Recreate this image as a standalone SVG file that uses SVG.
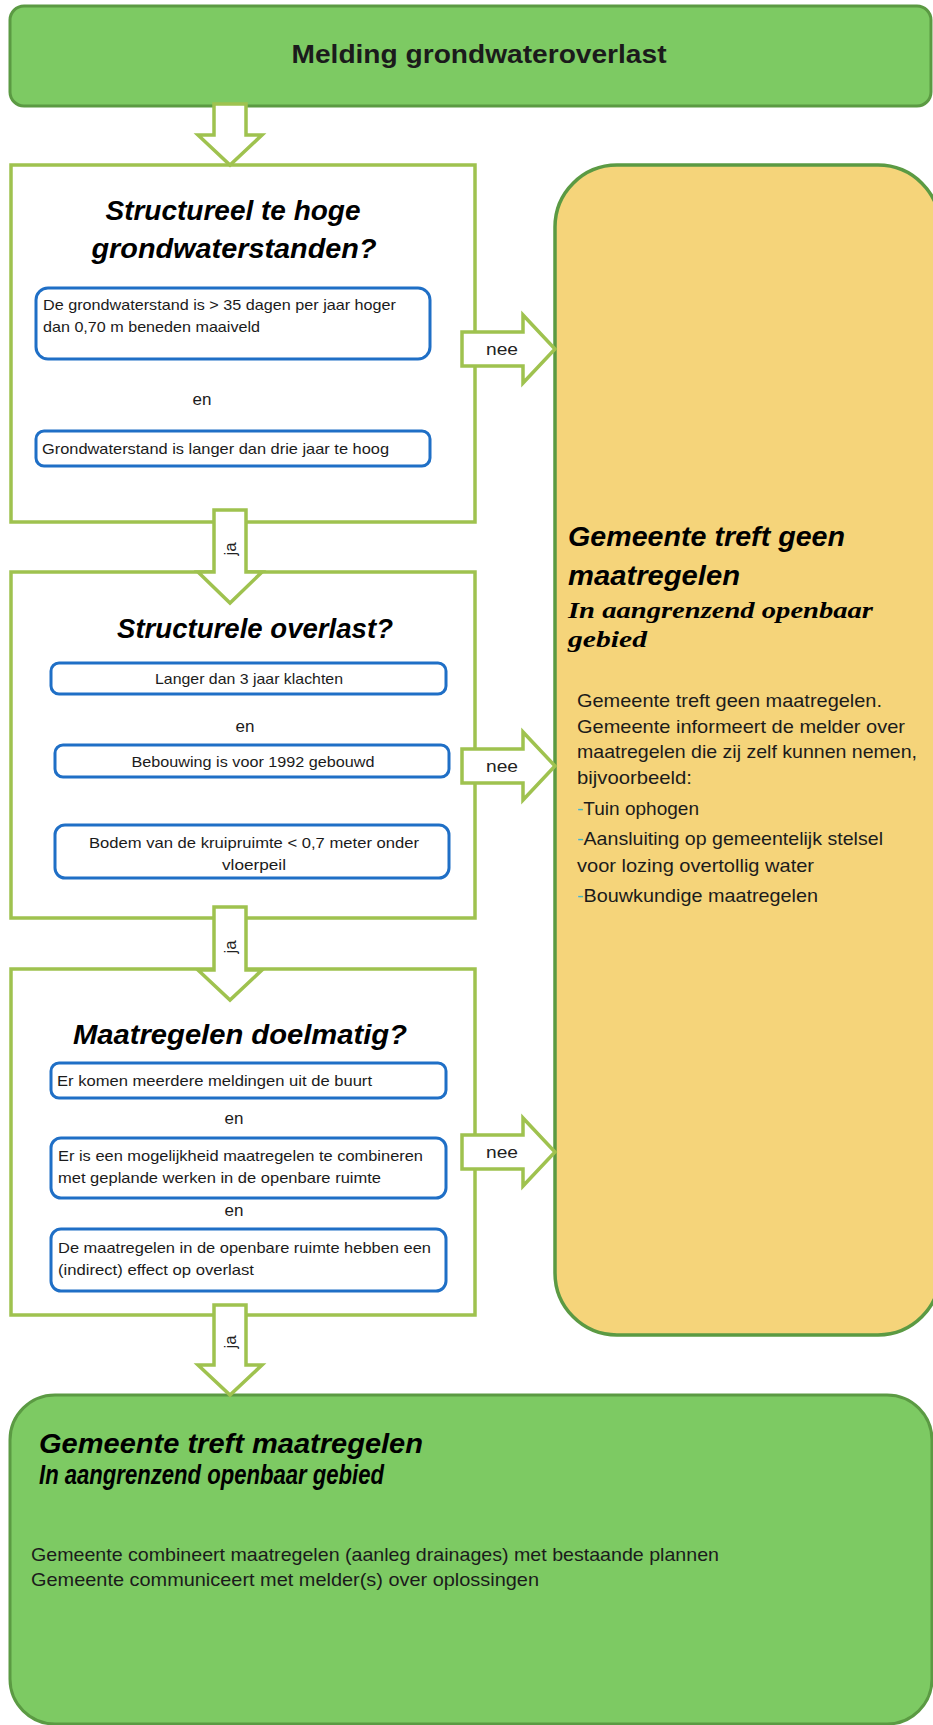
<svg xmlns="http://www.w3.org/2000/svg" width="933" height="1725" viewBox="0 0 933 1725">
<style>
.green{fill:#7dca63;stroke:#5b9a43;stroke-width:3}
.orange{fill:#f5d47a;stroke:#5b9a43;stroke-width:3.5}
.qbox{fill:#ffffff;stroke:#9fc24f;stroke-width:3.5}
.ibox{fill:#ffffff;stroke:#1f6fc6;stroke-width:3}
.arrow{fill:#ffffff;stroke:#9fc24f;stroke-width:3.5;stroke-linejoin:miter}
.t{font-family:"Liberation Sans",Arial,sans-serif;fill:#1b1b1b}
.title{font-family:"Liberation Sans",Arial,sans-serif;font-weight:bold;font-style:italic;font-size:27px;fill:#000}
.small{font-size:14.5px}
.en{font-size:17px}
.lbl{font-family:"Liberation Sans",Arial,sans-serif;font-size:17px;fill:#222}
.body{font-size:18.5px}
.serif{font-family:"Liberation Serif","Times New Roman",serif;font-weight:bold;font-style:italic;font-size:23px;fill:#000}
.dash{fill:#3fb7c9}
</style>

<g id="melding">
<rect class="green" x="10" y="6" width="921" height="100" rx="14"/>
<text class="t" x="479" y="63" font-size="25" font-weight="bold" text-anchor="middle" textLength="375" lengthAdjust="spacingAndGlyphs" fill="#000">Melding grondwateroverlast</text>
</g>

<g id="vraag1">
<rect class="qbox" x="11" y="165" width="464" height="357"/>
<text class="title" x="233" y="220" text-anchor="middle" textLength="255" lengthAdjust="spacingAndGlyphs">Structureel te hoge</text>
<text class="title" x="234" y="258" text-anchor="middle" textLength="285" lengthAdjust="spacingAndGlyphs">grondwaterstanden?</text>
<rect class="ibox" x="36" y="288" width="394" height="71" rx="12"/>
<text class="t small" x="43" y="310" textLength="353" lengthAdjust="spacingAndGlyphs">De grondwaterstand is &gt; 35 dagen per jaar hoger</text>
<text class="t small" x="43" y="332" textLength="217" lengthAdjust="spacingAndGlyphs">dan 0,70 m beneden maaiveld</text>
<text class="t en" x="202" y="405" text-anchor="middle">en</text>
<rect class="ibox" x="36" y="431" width="394" height="35" rx="8"/>
<text class="t small" x="42" y="454" textLength="347" lengthAdjust="spacingAndGlyphs">Grondwaterstand is langer dan drie jaar te hoog</text>
</g>

<g id="vraag2">
<rect class="qbox" x="11" y="572" width="464" height="346"/>
<text class="title" x="255" y="638" text-anchor="middle" textLength="276" lengthAdjust="spacingAndGlyphs">Structurele overlast?</text>
<rect class="ibox" x="51" y="663" width="395" height="31" rx="8"/>
<text class="t small" x="249" y="684" text-anchor="middle" textLength="188" lengthAdjust="spacingAndGlyphs">Langer dan 3 jaar klachten</text>
<text class="t en" x="245" y="732" text-anchor="middle">en</text>
<rect class="ibox" x="55" y="745" width="394" height="32" rx="8"/>
<text class="t small" x="253" y="767" text-anchor="middle" textLength="243" lengthAdjust="spacingAndGlyphs">Bebouwing is voor 1992 gebouwd</text>
<rect class="ibox" x="55" y="825" width="394" height="53" rx="10"/>
<text class="t small" x="254" y="848" text-anchor="middle" textLength="330" lengthAdjust="spacingAndGlyphs">Bodem van de kruipruimte &lt; 0,7 meter onder</text>
<text class="t small" x="254" y="870" text-anchor="middle" textLength="64" lengthAdjust="spacingAndGlyphs">vloerpeil</text>
</g>

<g id="vraag3">
<rect class="qbox" x="11" y="969" width="464" height="346"/>
<text class="title" x="240" y="1044" text-anchor="middle" textLength="334" lengthAdjust="spacingAndGlyphs">Maatregelen doelmatig?</text>
<rect class="ibox" x="51" y="1063" width="395" height="35" rx="8"/>
<text class="t small" x="57" y="1086" textLength="315" lengthAdjust="spacingAndGlyphs">Er komen meerdere meldingen uit de buurt</text>
<text class="t en" x="234" y="1124" text-anchor="middle">en</text>
<rect class="ibox" x="51" y="1138" width="395" height="60" rx="10"/>
<text class="t small" x="58" y="1161" textLength="365" lengthAdjust="spacingAndGlyphs">Er is een mogelijkheid maatregelen te combineren</text>
<text class="t small" x="58" y="1183" textLength="323" lengthAdjust="spacingAndGlyphs">met geplande werken in de openbare ruimte</text>
<text class="t en" x="234" y="1216" text-anchor="middle">en</text>
<rect class="ibox" x="51" y="1229" width="395" height="62" rx="10"/>
<text class="t small" x="58" y="1253" textLength="373" lengthAdjust="spacingAndGlyphs">De maatregelen in de openbare ruimte hebben een</text>
<text class="t small" x="58" y="1275" textLength="196" lengthAdjust="spacingAndGlyphs">(indirect) effect op overlast</text>
</g>

<g id="geen-maatregelen">
<rect class="orange" x="555" y="165" width="385" height="1170" rx="62"/>
<text class="title" x="568" y="546" font-size="27" textLength="277" lengthAdjust="spacingAndGlyphs">Gemeente treft geen</text>
<text class="title" x="568" y="585" font-size="27" textLength="172" lengthAdjust="spacingAndGlyphs">maatregelen</text>
<text class="serif" x="568" y="618" textLength="305" lengthAdjust="spacingAndGlyphs">In aangrenzend openbaar</text>
<text class="serif" x="568" y="647" textLength="79" lengthAdjust="spacingAndGlyphs">gebied</text>
<text class="t body" x="577" y="707" textLength="305" lengthAdjust="spacingAndGlyphs">Gemeente treft geen maatregelen.</text>
<text class="t body" x="577" y="733" textLength="328" lengthAdjust="spacingAndGlyphs">Gemeente informeert de melder over</text>
<text class="t body" x="577" y="758" textLength="340" lengthAdjust="spacingAndGlyphs">maatregelen die zij zelf kunnen nemen,</text>
<text class="t body" x="577" y="784" textLength="115" lengthAdjust="spacingAndGlyphs">bijvoorbeeld:</text>
<text class="t body" x="577" y="815" textLength="122" lengthAdjust="spacingAndGlyphs"><tspan class="dash">-</tspan>Tuin ophogen</text>
<text class="t body" x="577" y="845" textLength="306" lengthAdjust="spacingAndGlyphs"><tspan class="dash">-</tspan>Aansluiting op gemeentelijk stelsel</text>
<text class="t body" x="577" y="872" textLength="237" lengthAdjust="spacingAndGlyphs">voor lozing overtollig water</text>
<text class="t body" x="577" y="902" textLength="241" lengthAdjust="spacingAndGlyphs"><tspan class="dash">-</tspan>Bouwkundige maatregelen</text>
</g>

<g id="treft-maatregelen">
<rect class="green" x="10" y="1395" width="922" height="329" rx="45"/>
<text class="title" x="39" y="1453" font-size="28" textLength="384" lengthAdjust="spacingAndGlyphs">Gemeente treft maatregelen</text>
<text class="title" x="39" y="1484" font-size="22" textLength="345" lengthAdjust="spacingAndGlyphs">In aangrenzend openbaar gebied</text>
<text class="t body" x="31" y="1561" font-size="19" textLength="688" lengthAdjust="spacingAndGlyphs">Gemeente combineert maatregelen (aanleg drainages) met bestaande plannen</text>
<text class="t body" x="31" y="1586" font-size="19" textLength="508" lengthAdjust="spacingAndGlyphs">Gemeente communiceert met  melder(s) over oplossingen</text>
</g>

<g id="connectors">
<path class="arrow" d="M214,104 L246,104 L246,135 L262,135 L230,165 L198,135 L214,135 Z"/>
<path class="arrow" d="M214,510 L246,510 L246,572 L262,572 L230,603 L198,572 L214,572 Z"/>
<text class="lbl" transform="translate(230,549) rotate(-90)" text-anchor="middle" dominant-baseline="central" font-size="15">ja</text>
<path class="arrow" d="M214,907 L246,907 L246,970 L262,970 L230,1000 L198,970 L214,970 Z"/>
<text class="lbl" transform="translate(230,947) rotate(-90)" text-anchor="middle" dominant-baseline="central" font-size="15">ja</text>
<path class="arrow" d="M214,1305 L246,1305 L246,1365 L262,1365 L230,1395 L198,1365 L214,1365 Z"/>
<text class="lbl" transform="translate(230,1342) rotate(-90)" text-anchor="middle" dominant-baseline="central" font-size="15">ja</text>
<path class="arrow" d="M462,332 L523,332 L523,315 L555,349 L523,383 L523,366 L462,366 Z"/>
<text class="lbl" x="502" y="355" text-anchor="middle" textLength="32" lengthAdjust="spacingAndGlyphs">nee</text>
<path class="arrow" d="M462,749 L523,749 L523,732 L555,766 L523,800 L523,783 L462,783 Z"/>
<text class="lbl" x="502" y="772" text-anchor="middle" textLength="32" lengthAdjust="spacingAndGlyphs">nee</text>
<path class="arrow" d="M462,1135 L523,1135 L523,1118 L555,1152 L523,1186 L523,1169 L462,1169 Z"/>
<text class="lbl" x="502" y="1158" text-anchor="middle" textLength="32" lengthAdjust="spacingAndGlyphs">nee</text>
</g>
</svg>
